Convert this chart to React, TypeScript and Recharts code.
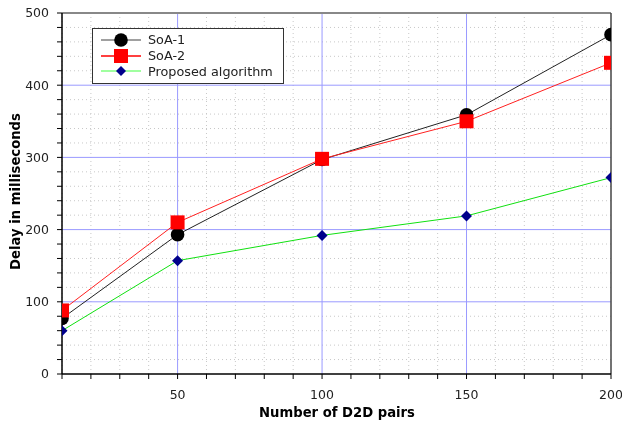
import React from 'react';
import { LineChart, Line, XAxis, YAxis, ReferenceLine } from 'recharts';

const pairs = [10, 50, 100, 150, 200];
const soa1 = [77, 193, 297, 359, 470];
const soa2 = [88, 210, 298, 350, 431];
const proposed = [60, 157, 192, 219, 272];

const xDomain = [10, 200];
const xTicks = [10, 20, 30, 40, 50, 60, 70, 80, 90, 100, 110, 120, 130, 140, 150, 160, 170, 180, 190, 200];
const xMajor = [50, 100, 150];
const yTicks = [0, 20, 40, 60, 80, 100, 120, 140, 160, 180, 200, 220, 240, 260, 280, 300, 320, 340, 360, 380, 400, 420, 440, 460, 480, 500];
const yMajor = [100, 200, 300, 400];

const data = pairs.map((p, i) => ({ pairs: p, soa1: soa1[i], soa2: soa2[i], proposed: proposed[i] }));

const FONT = 'DejaVu Sans, sans-serif';

// Clip markers that sit on the left/right edge of the plot (first/last point), as the reference does.
const clipFor = (prefix: string, index: number, cx: number, cy: number, shape: React.ReactNode) => {
  const first = index === 0;
  const last = index === pairs.length - 1;
  if (!first && !last) return <g key={prefix + index}>{shape}</g>;
  const id = `edgeclip-${prefix}-${index}`;
  return (
    <g key={prefix + index}>
      <clipPath id={id}>
        <rect x={first ? cx : cx - 12} y={cy - 12} width={12} height={24} />
      </clipPath>
      <g clipPath={`url(#${id})`}>{shape}</g>
    </g>
  );
};

const CircleDot = (props: any) => {
  const { cx, cy, index } = props;
  return clipFor('c', index, cx, cy, <circle cx={cx} cy={cy} r={6.8} fill="#000" />);
};
const SquareDot = (props: any) => {
  const { cx, cy, index } = props;
  return clipFor('s', index, cx, cy, <rect x={cx - 7} y={cy - 7} width={14} height={14} fill="#ff0000" />);
};
const DiamondDot = (props: any) => {
  const { cx, cy, index } = props;
  return clipFor(
    'd',
    index,
    cx,
    cy,
    <polygon points={`${cx},${cy - 5.5} ${cx + 5.5},${cy} ${cx},${cy + 5.5} ${cx - 5.5},${cy}`} fill="#00008b" />
  );
};

const LegendBox = () => {
  const rows = [
    { label: 'SoA-1', color: '#808080', marker: <circle cx={20} cy={8} r={6.8} fill="#000" /> },
    { label: 'SoA-2', color: '#ff0000', marker: <rect x={13} y={1} width={14} height={14} fill="#ff0000" /> },
    { label: 'Proposed algorithm', color: '#80ff80', marker: <polygon points="20,3 25,8 20,13 15,8" fill="#00008b" /> },
  ];
  return (
    <div
      style={{
        position: 'absolute',
        left: 84,
        top: 20,
        border: '1px solid #333',
        background: '#fff',
        width: 192,
        height: 56,
        boxSizing: 'border-box',
        padding: '3px 0 0 8px',
        fontFamily: FONT,
        fontSize: 12.8,
        color: '#222',
      }}
    >
      {rows.map((r) => (
        <div key={r.label} style={{ display: 'flex', alignItems: 'center', height: 15.7 }}>
          <svg width={40} height={16} style={{ overflow: 'visible' }}>
            <line x1={0} y1={8} x2={40} y2={8} stroke={r.color} strokeWidth={1.5} />
            {r.marker}
          </svg>
          <span style={{ marginLeft: 7, lineHeight: '15px' }}>{r.label}</span>
        </div>
      ))}
    </div>
  );
};

const YLabel = () => (
  <text
    x={11.5}
    y={183.5}
    transform="rotate(-90, 11.5, 183.5)"
    textAnchor="middle"
    fontFamily={FONT}
    fontSize={13.2}
    fontWeight="bold"
    fill="#000"
  >
    Delay in milliseconds
  </text>
);

const XLabel = () => (
  <text x={329} y={408.7} textAnchor="middle" fontFamily={FONT} fontSize={13.2} fontWeight="bold" fill="#000">
    Number of D2D pairs
  </text>
);

export default function App() {
  return (
    <div style={{ position: 'fixed', left: 8, top: 8, width: 622, height: 414 }}>
      <LineChart
        width={622}
        height={414}
        data={data}
        margin={{ top: 5, right: 19, left: 0, bottom: 8 }}
      >
        {yTicks.filter((v) => v % 100 !== 0).map((v) => (
          <ReferenceLine key={'ym' + v} y={v} stroke="#c8c8c8" strokeDasharray="1 3" />
        ))}
        {xTicks.filter((v) => v % 50 !== 0).map((v) => (
          <ReferenceLine key={'xm' + v} x={v} stroke="#c8c8c8" strokeDasharray="1 3" />
        ))}
        {yMajor.map((v) => (
          <ReferenceLine key={'yM' + v} y={v} stroke="#9a9aff" />
        ))}
        {xMajor.map((v) => (
          <ReferenceLine key={'xM' + v} x={v} stroke="#9a9aff" />
        ))}
        <ReferenceLine y={500} stroke="#888" strokeWidth={2} />
        <ReferenceLine x={200} stroke="#444" strokeWidth={1.5} />
        <XAxis
          dataKey="pairs"
          type="number"
          domain={xDomain}
          ticks={xTicks}
          allowDataOverflow
          interval={0}
          height={40}
          tickSize={5}
          tickMargin={11}
          tickFormatter={(v: number) => (v % 50 === 0 ? String(v) : '')}
          tick={{ fontFamily: FONT, fontSize: 12.5, fill: '#222' }}
          axisLine={{ stroke: '#000', strokeWidth: 1.5 }}
          tickLine={{ stroke: '#000' }}
          label={<XLabel />}
        />
        <YAxis
          type="number"
          domain={[0, 500]}
          ticks={yTicks}
          allowDataOverflow
          interval={0}
          width={54}
          tickSize={5}
          tickMargin={8}
          tickFormatter={(v: number) => (v % 100 === 0 ? String(v) : '')}
          tick={{ fontFamily: FONT, fontSize: 12.5, fill: '#222' }}
          axisLine={{ stroke: '#000', strokeWidth: 1.5 }}
          tickLine={{ stroke: '#000' }}
          label={<YLabel />}
        />
        <Line dataKey="soa1" stroke="#222" strokeWidth={1} dot={CircleDot} activeDot={false} isAnimationActive={false} />
        <Line dataKey="soa2" stroke="#ff2020" strokeWidth={1} dot={SquareDot} activeDot={false} isAnimationActive={false} />
        <Line dataKey="proposed" stroke="#10e010" strokeWidth={1} dot={DiamondDot} activeDot={false} isAnimationActive={false} />
      </LineChart>
      <LegendBox />
    </div>
  );
}
